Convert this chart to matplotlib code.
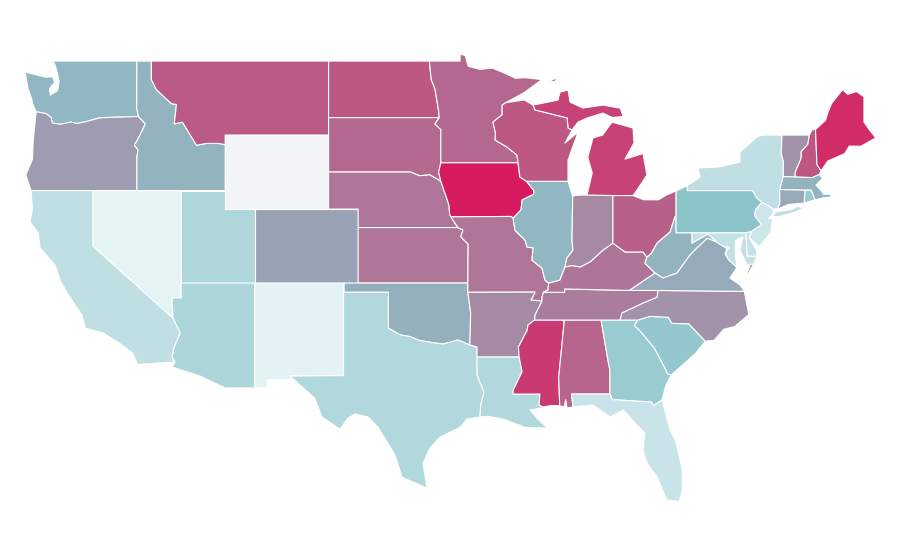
import matplotlib
matplotlib.use("Agg")
import matplotlib.pyplot as plt
from matplotlib.colors import LinearSegmentedColormap, Normalize

# shared borders (lon, lat)
COLUMBIA = [(-123.85,46.25),(-123.4,46.2),(-123.15,46.15),(-122.85,45.95),(-122.75,45.65),(-122.2,45.58),(-121.5,45.7),(-121.1,45.62),(-120.5,45.72),(-119.6,45.92),(-119.0,45.95),(-116.92,46.0)]
SNAKE = [(-116.92,46.0),(-116.46,45.6),(-116.85,44.95),(-117.2,44.45),(-116.95,44.2),(-117.03,43.83),(-117.03,42.0)]
ID_MT = [(-116.05,49.0),(-116.05,48.0),(-115.7,47.45),(-114.7,46.7),(-114.35,46.65),(-114.5,45.6),(-113.95,45.7),(-113.45,45.05),(-113.0,44.45),(-112.3,44.55),(-111.5,44.55),(-111.05,44.48)]
COLORADO_R = [(-114.65,36.2),(-114.58,35.1),(-114.1,34.3),(-114.5,33.54),(-114.65,33.0),(-114.45,32.73)]
RED_N = [(-97.23,49.0),(-97.1,48.0),(-96.85,47.5),(-96.6,46.3),(-96.56,45.94)]
SD_MN = [(-96.56,45.94),(-96.85,45.6),(-96.45,45.3),(-96.45,43.5)]
MO_R_N = [(-96.45,43.5),(-96.6,43.0),(-96.45,42.5),(-96.1,41.7),(-95.9,41.2),(-95.85,40.7),(-95.77,40.58)]
MO_R_S = [(-95.77,40.58),(-95.3,40.0),(-94.95,39.87),(-95.1,39.5),(-94.6,39.1)]
SD_NE = [(-98.5,43.0),(-97.9,42.8),(-97.2,42.85),(-96.45,42.5)]
RED_S = [(-100.0,34.56),(-99.2,34.2),(-98.5,34.1),(-97.9,33.9),(-97.18,33.8),(-96.3,33.7),(-95.3,33.92),(-94.48,33.65)]
SABINE = [(-94.0,33.0),(-94.0,32.03),(-93.53,31.1),(-93.75,30.4),(-93.8,29.76)]
MS_UP1 = [(-92.05,46.75),(-92.3,46.62),(-92.3,46.1),(-92.92,45.7),(-92.75,45.1),(-92.78,44.73),(-91.97,44.35),(-91.3,43.92),(-91.22,43.5)]
MS_UP2 = [(-91.22,43.5),(-91.1,42.73),(-90.65,42.5)]
MS_UP3 = [(-90.65,42.5),(-90.15,42.0),(-90.15,41.8),(-90.95,41.49),(-91.02,40.95),(-91.56,40.51)]
IA_MO = [(-91.56,40.51),(-91.7,40.6),(-95.77,40.58)]
MS_MID = [(-91.56,40.51),(-91.43,39.86),(-90.75,39.32),(-90.62,38.95),(-90.2,38.9),(-90.28,38.24),(-89.6,37.8),(-89.4,37.16),(-89.15,37.0)]
MS_MO_KY = [(-89.15,37.0),(-89.2,36.62),(-89.5,36.5)]
MS_LOW1 = [(-89.5,36.5),(-89.6,36.24),(-89.6,36.03)]
MS_LOW1B = [(-89.6,36.03),(-90.07,35.27),(-90.1,35.0)]
MS_LOW2 = [(-90.1,35.0),(-90.55,34.73),(-90.6,34.46),(-91.2,33.54),(-91.15,33.0)]
MS_LOW3 = [(-91.15,33.0),(-90.95,32.2),(-91.56,31.2),(-91.56,31.0)]
PEARL = [(-91.56,31.0),(-89.74,31.0),(-89.8,30.4),(-89.53,30.3)]
OHIO_W = [(-89.15,37.0),(-88.4,37.16),(-88.05,37.87)]
OHIO_IN = [(-88.05,37.87),(-87.6,37.95),(-87.02,37.87),(-86.35,38.14),(-85.47,38.78),(-84.8,39.16)]
OHIO_OH = [(-84.8,39.16),(-83.98,38.68),(-82.76,38.68),(-82.5,38.4)]
OHIO_WV = [(-82.5,38.4),(-82.2,38.6),(-81.81,39.16),(-80.93,39.76),(-80.6,40.57),(-80.52,40.64)]
WABASH = [(-88.05,37.87),(-87.91,38.35),(-87.5,38.78),(-87.57,39.32),(-87.52,41.7)]
KY_WV = [(-82.5,38.4),(-82.63,38.08),(-81.95,37.54)]
VA_WV = [(-81.95,37.54),(-81.41,37.27),(-80.46,37.54),(-79.58,38.51),(-79.1,38.9),(-78.4,39.42),(-77.75,39.2)]
POTOMAC_W = [(-77.75,39.2),(-78.36,39.65),(-78.7,39.5),(-79.44,39.16),(-79.44,39.72)]
POTOMAC_E = [(-77.75,39.2),(-77.05,38.85),(-77.2,38.6),(-76.95,38.25),(-76.4,37.85)]
TN_NC = [(-81.75,36.6),(-81.81,36.24),(-82.76,35.92),(-84.2,35.38),(-84.32,35.0)]
SAVANNAH = [(-83.1,35.0),(-83.35,34.7),(-83.0,34.45),(-82.0,33.5),(-81.4,32.6),(-81.1,32.1),(-80.85,32.03)]
NC_SC = [(-83.1,35.0),(-82.3,35.2),(-81.05,35.15),(-80.8,34.82),(-79.67,34.8),(-78.55,33.86)]
AL_GA = [(-85.6,35.0),(-85.13,32.8),(-85.0,32.3),(-85.0,31.0)]
GA_FL = [(-85.0,31.0),(-84.85,30.7),(-82.2,30.57),(-82.05,30.37),(-81.48,30.68)]
MS_AL = [(-88.2,35.0),(-88.1,34.9),(-88.47,31.9),(-88.4,30.37)]
DELAWARE_R = [(-75.35,42.0),(-75.05,41.6),(-74.7,41.36)]
NJ_PA = [(-74.7,41.36),(-75.13,40.98),(-75.2,40.65),(-74.72,40.15),(-75.4,39.8)]
CT_R = [(-73.27,42.75),(-73.25,43.55),(-73.4,44.0),(-73.35,45.0)]
VT_NH = [(-71.5,45.0),(-71.6,44.5),(-72.05,44.1),(-72.05,43.75),(-72.45,43.0),(-72.46,42.73)]
NH_ME = [(-71.08,45.3),(-70.98,43.4),(-70.7,43.07)]
WI_UP = [(-90.21,46.62),(-90.08,46.35),(-87.9,45.92),(-87.84,45.38),(-87.57,45.27)]

# state outlines (lon, lat)
WA = [(-122.72,49.0),(-117.03,49.0),(-117.04,46.42)] + COLUMBIA[::-1] + [(-124.1,46.7),(-124.15,46.95),(-124.4,47.5),(-124.6,48.4),(-123.2,48.13),(-122.75,48.15),(-122.6,47.85),(-122.95,47.5),(-122.9,47.16),(-122.4,47.4),(-122.3,47.9),(-122.4,48.3),(-122.55,48.75)]
OR = COLUMBIA + SNAKE + [(-124.2,42.0),(-124.55,42.84),(-124.1,43.7),(-124.05,44.7),(-123.95,45.5)]
CA = [(-124.2,42.0),(-120.0,42.0),(-120.0,39.0)] + COLORADO_R[1:] + [(-117.0,32.6),(-117.3,33.2),(-118.3,33.8),(-119.32,34.3),(-120.54,34.57),(-120.74,35.27),(-121.76,36.46),(-122.23,37.16),(-122.57,37.97),(-123.59,38.9),(-123.7,39.7),(-124.27,40.3),(-124.1,41.0)]
NV = [(-120.0,42.0),(-114.04,42.0),(-114.04,36.2),(-114.65,36.2),(-114.58,35.1),(-120.0,39.0)]
ID = [(-117.03,49.0)] + ID_MT + [(-111.05,42.0)] + SNAKE[::-1] + [(-117.04,46.42)]
MT = [(-116.05,49.0),(-104.05,49.0),(-104.05,45.0),(-111.05,45.0)] + ID_MT[::-1]
WY = [(-111.05,45.0),(-104.05,45.0),(-104.05,41.0),(-111.05,41.0)]
UT = [(-114.04,42.0),(-111.05,42.0),(-111.05,41.0),(-109.05,41.0),(-109.05,37.0),(-114.04,37.0)]
CO = [(-109.05,41.0),(-102.05,41.0),(-102.05,37.0),(-109.05,37.0)]
AZ = [(-114.04,37.0),(-109.05,37.0),(-109.05,31.33),(-111.07,31.33),(-112.75,31.97),(-114.65,32.46)] + COLORADO_R[::-1] + [(-114.04,36.2)]
NM = [(-109.05,37.0),(-103.0,37.0),(-103.04,32.0),(-106.66,32.0),(-106.53,31.78),(-108.21,31.78),(-108.21,31.33),(-109.05,31.33)]
ND = RED_N + [(-104.05,45.94),(-104.05,49.0)]
SD = [(-104.05,45.94)] + SD_MN + MO_R_N[1:3] + SD_NE[::-1][1:] + [(-104.05,43.0)]
MN = [(-97.23,49.0),(-95.15,49.0),(-95.15,49.38),(-94.8,49.3),(-94.6,48.72),(-93.8,48.55),(-92.95,48.62),(-92.0,48.3),(-91.4,48.07),(-90.75,48.1),(-89.6,48.0),(-90.8,47.3)] + MS_UP1 + SD_MN[::-1] + RED_N[::-1]
NE = [(-104.05,43.0)] + SD_NE + MO_R_N[3:] + MO_R_S[1:2] + [(-102.05,40.0),(-102.05,41.0),(-104.05,41.0)]
KS = [(-102.05,40.0)] + MO_R_S[1:] + [(-94.62,37.0),(-102.05,37.0)]
OK = [(-103.0,37.0),(-94.62,37.0),(-94.62,36.5),(-94.43,35.4)] + RED_S[::-1] + [(-100.0,36.5),(-103.0,36.5)]
TX = [(-103.04,36.5),(-100.0,36.5)] + RED_S + [(-94.0,33.54)] + SABINE + [(-94.68,29.65),(-95.15,29.2),(-96.5,28.68),(-97.18,28.08),(-97.66,27.27),(-97.39,25.92),(-99.08,26.5),(-99.55,27.7),(-100.7,29.2),(-101.38,29.76),(-102.26,29.92),(-102.73,29.7),(-103.28,29.1),(-104.5,29.76),(-105.0,30.78),(-106.66,31.97),(-103.04,32.0)]
IA = [(-96.45,43.5)] + [(-91.22,43.5),(-91.1,42.73)] + MS_UP3 + IA_MO[1:] + MO_R_N[::-1][1:]
MO = IA_MO[::-1] + MS_MID[1:] + MS_MO_KY[1:] + MS_LOW1[1:] + [(-90.35,36.08),(-90.07,36.51),(-94.62,36.5),(-94.62,37.0)] + MO_R_S[::-1]
AR = [(-94.62,36.5),(-90.07,36.51),(-90.35,36.08)] + MS_LOW1B + MS_LOW2[1:] + [(-94.0,33.0),(-94.0,33.54),(-94.48,33.65),(-94.43,35.4)]
LA = MS_LOW3 + PEARL[1:] + [(-89.6,30.24),(-90.4,30.14),(-89.94,29.7),(-89.26,29.16),(-90.75,29.2),(-92.24,29.65),(-93.26,29.8)] + SABINE[::-1]
MS = [(-90.1,35.0)] + MS_AL + [(-89.0,30.38)] + PEARL[::-1] + MS_LOW3[::-1][1:] + MS_LOW2[::-1][1:]
AL = [(-88.2,35.0)] + AL_GA + [(-87.6,31.0),(-87.5,30.3),(-87.9,30.25),(-88.0,30.7),(-88.1,30.3)] + MS_AL[::-1][:-1]
GA = [(-85.6,35.0)] + SAVANNAH + [(-81.2,31.5)] + GA_FL[::-1] + AL_GA[::-1][1:]
FL = [(-87.6,31.0)] + GA_FL + [(-80.93,29.05),(-80.55,28.45),(-80.1,26.9),(-80.1,25.8),(-80.3,25.2),(-81.14,25.27),(-81.8,26.51),(-82.49,27.27),(-82.76,27.97),(-82.63,28.89),(-83.17,29.32),(-84.1,30.14),(-85.0,29.76),(-85.47,30.03),(-86.15,30.4),(-87.5,30.3)]
SC = NC_SC + [(-79.2,33.2),(-79.9,32.7)] + SAVANNAH[::-1]
NC = [(-84.32,35.0)] + NC_SC + [(-77.95,33.9),(-77.3,34.5),(-76.55,34.65),(-75.75,35.2),(-75.6,35.3),(-75.9,36.55)] + TN_NC
TN = [(-89.5,36.5),(-88.07,36.5),(-88.07,36.68),(-83.68,36.6)] + TN_NC + [(-85.6,35.0),(-88.2,35.0)] + MS_LOW1B[::-1] + MS_LOW1[::-1][1:]
KY = OHIO_W + OHIO_IN[1:] + OHIO_OH[1:] + KY_WV[1:] + [(-83.68,36.6),(-88.07,36.68),(-88.07,36.5),(-89.5,36.5),(-89.2,36.62)]
IL = [(-90.65,42.5),(-87.84,42.5),(-87.52,41.7)] + WABASH[::-1][1:] + OHIO_W[::-1][1:] + MS_MID[::-1][1:] + MS_UP3[::-1][1:-1]
IN = [(-87.52,41.7),(-87.2,41.75),(-86.55,41.76),(-84.8,41.76)] + OHIO_IN[::-1] + WABASH[1:-1]
OH = [(-84.8,41.76),(-83.44,41.73),(-82.7,41.5),(-81.7,41.5),(-81.2,41.75),(-80.52,41.98)] + OHIO_WV[::-1] + OHIO_OH[::-1]
WV = [(-80.52,40.64),(-80.52,39.72)] + POTOMAC_W[::-1] + VA_WV[::-1] + KY_WV[::-1][1:] + OHIO_WV[1:]
VA = [(-83.68,36.6)] + VA_WV + POTOMAC_E + [(-76.87,37.27),(-76.2,36.9),(-76.05,36.73),(-75.9,36.55),(-81.75,36.6)]
VA_SHORE = [(-75.86,37.27),(-75.5,38.0),(-75.25,38.03),(-75.65,37.5)]
MD = POTOMAC_W[1:] + [(-75.79,39.72),(-75.7,38.46),(-75.05,38.45),(-75.25,38.03),(-75.72,38.0),(-76.2,38.78),(-76.0,39.5),(-76.5,39.3),(-76.5,38.4)] + POTOMAC_E[::-1]
DE = [(-75.79,39.72),(-75.4,39.8),(-75.55,39.45),(-75.1,38.8),(-75.05,38.45),(-75.7,38.46)]
DC = [(-77.12,38.93),(-77.04,39.0),(-76.91,38.89),(-77.04,38.79)]
PA = [(-80.52,41.98),(-79.76,42.27),(-79.76,42.0)] + DELAWARE_R + NJ_PA[1:] + [(-75.79,39.72),(-80.52,39.72)]
NJ = NJ_PA + [(-75.55,39.45),(-74.9,38.95),(-74.1,39.75),(-74.0,40.45),(-74.25,40.5),(-74.0,40.7),(-73.9,41.0)]
NY = [(-79.76,42.27),(-78.9,42.73),(-79.04,43.22),(-77.68,43.27),(-76.2,43.54),(-76.2,44.08),(-75.04,44.9),(-74.7,45.0)] + CT_R[::-1] + [(-73.5,42.05),(-73.5,41.3),(-73.65,41.0),(-73.9,41.0)] + DELAWARE_R[::-1] + [(-79.76,42.0)]
LONG_ISLAND = [(-74.03,40.6),(-73.75,40.85),(-72.65,40.98),(-72.3,41.15),(-71.9,41.05),(-72.5,40.82),(-73.6,40.58)]
VT = [(-73.35,45.0)] + VT_NH + CT_R
NH = [(-71.5,45.0),(-71.3,45.3)] + NH_ME + [(-70.82,42.87),(-71.3,42.7)] + VT_NH[::-1][:-1]
ME = NH_ME[:1] + [(-70.4,45.8),(-70.25,46.2),(-70.0,46.7),(-69.25,47.45),(-68.9,47.2),(-68.3,47.35),(-67.8,47.07),(-67.8,45.7),(-67.45,45.3),(-67.0,44.85),(-68.0,44.4),(-68.8,44.4),(-69.1,44.0),(-69.8,43.75),(-70.25,43.6),(-70.7,43.07),(-70.98,43.4)]
MA = [(-73.5,42.05),(-73.27,42.75),(-72.46,42.73),(-71.3,42.7),(-70.82,42.87),(-70.6,42.65),(-71.05,42.3),(-70.65,41.95),(-70.55,41.8),(-70.0,41.8),(-70.05,41.65),(-70.6,41.6),(-71.12,41.5),(-71.38,42.02),(-71.8,42.02)]
RI = [(-71.8,42.02),(-71.38,42.02),(-71.12,41.5),(-71.85,41.32)]
CT = [(-73.5,42.05),(-71.8,42.02),(-71.85,41.32),(-72.9,41.25),(-73.65,41.0),(-73.5,41.3)]
MI_LOWER = [(-86.55,41.76),(-84.8,41.73),(-83.44,41.73),(-83.15,42.05),(-82.5,42.84),(-82.76,44.0),(-83.98,43.7),(-83.37,44.57),(-83.44,45.38),(-84.86,45.7),(-85.5,45.0),(-86.15,44.84),(-86.5,43.8),(-86.2,42.95)]
MI_UPPER = WI_UP + [(-87.16,45.7),(-86.55,45.92),(-85.47,46.19),(-84.86,45.95),(-84.1,46.0),(-84.3,46.45),(-85.47,46.62),(-86.82,46.46),(-87.7,46.78),(-87.84,47.43),(-88.38,47.32),(-88.52,46.89)]
ISLE_ROYALE = [(-89.2,47.85),(-88.5,48.15),(-88.75,47.9)]
WI = [(-92.05,46.75),(-90.8,46.9)] + WI_UP + [(-88.04,44.57),(-87.16,45.16),(-87.5,44.4),(-87.84,43.65),(-87.84,42.5)] + MS_UP2[::-1] + MS_UP1[::-1][1:]

# one value per state; NaN means no data
STATE_NAMES = ["WA","OR","CA","NV","ID","MT","WY","UT","CO","AZ","NM","ND","SD","MN","NE","KS","OK","TX","IA","MO","AR","LA","MS","AL","GA","FL","SC","NC","TN","KY","IL","IN","OH","WV","VA","MD","DE","DC","PA","NJ","NY","VT","NH","ME","MA","RI","CT","MI","WI"]
STATE_VALUES = [40,51,15,0,42,76,float("nan"),21.6,48.4,22,1,77,71,71,65,65.5,43,20.5,100,65.5,58,20.5,88,72,30,11,32,55,62.5,66,40,58,73.5,41.5,45.5,13,12.5,13,35,10,15,55,78,94,42,30,46,85,77]
STATE_SHAPES = [[WA],[OR],[CA],[NV],[ID],[MT],[WY],[UT],[CO],[AZ],[NM],[ND],[SD],[MN],[NE],[KS],[OK],[TX],[IA],[MO],[AR],[LA],[MS],[AL],[GA],[FL],[SC],[NC],[TN],[KY],[IL],[IN],[OH],[WV],[VA,VA_SHORE],[MD],[DE],[DC],[PA],[NJ],[NY,LONG_ISLAND],[VT],[NH],[ME],[MA],[RI],[CT],[MI_LOWER,MI_UPPER,ISLE_ROYALE],[WI]]

RAMP_STOPS = [(0.0,"#e5f3f5"),(0.35,"#8cc4ca"),(0.50,"#9c9fb2"),(1.0,"#d81b5e")]
NO_DATA = "#f3f4f6"

cmap = LinearSegmentedColormap.from_list("ramp", RAMP_STOPS)
cmap.set_bad(NO_DATA)
norm = Normalize(0, 100)

fig = plt.figure(figsize=(9, 5.6), dpi=100)
ax = fig.add_axes([0, 0, 1, 1])
for shapes, value in zip(STATE_SHAPES, STATE_VALUES):
    color = NO_DATA if value != value else cmap(norm(value))
    for shape in shapes:
        xs, ys = zip(*shape)
        ax.fill(xs, ys, facecolor=color, edgecolor="white", linewidth=0.8, joinstyle="round")
ax.set_xlim(-126.3, -65.36)
ax.set_ylim(22.03, 52.3)
ax.axis("off")
fig.savefig("out.png", dpi=100, facecolor="white")
